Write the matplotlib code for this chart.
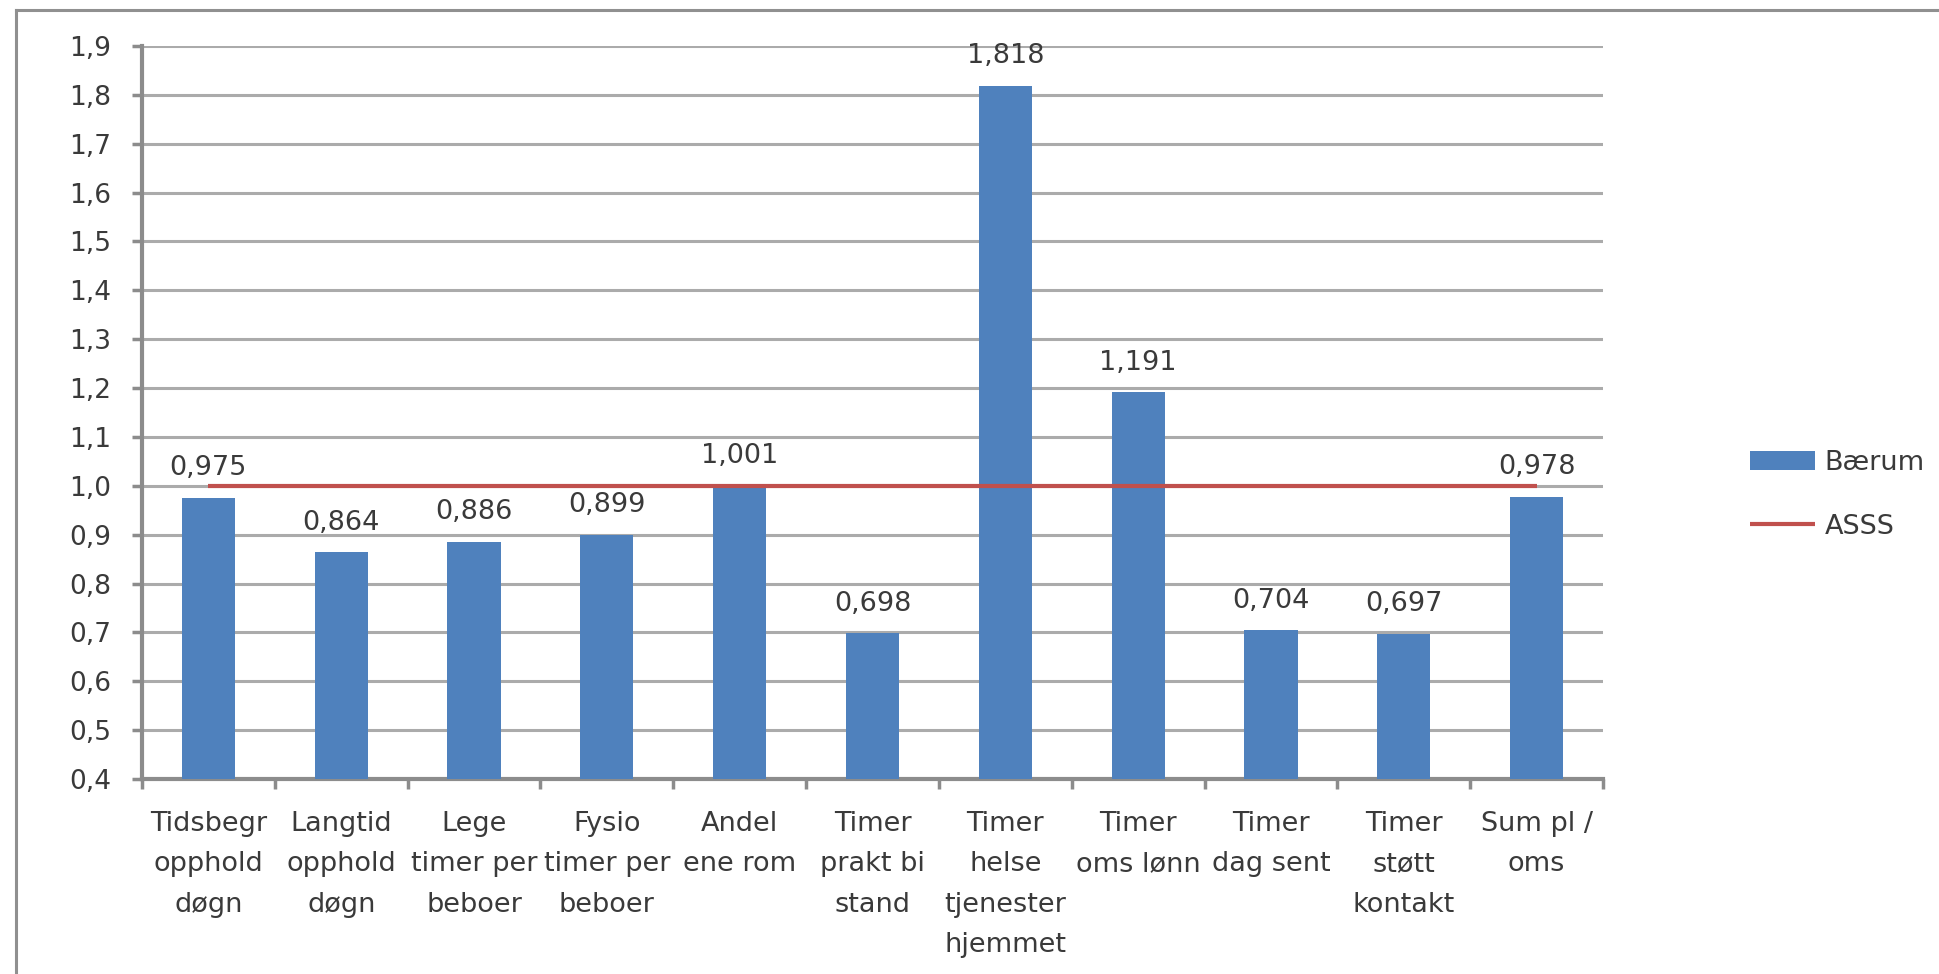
import matplotlib
matplotlib.use("Agg")
import matplotlib.pyplot as plt
from matplotlib.lines import Line2D

plt.rcParams['font.family'] = ['DejaVu Sans']

categories = [
    "Tidsbegr\nopphold\ndøgn",
    "Langtid\nopphold\ndøgn",
    "Lege\ntimer per\nbeboer",
    "Fysio\ntimer per\nbeboer",
    "Andel\nene rom",
    "Timer\nprakt bi\nstand",
    "Timer\nhelse\ntjenester\nhjemmet",
    "Timer\noms lønn",
    "Timer\ndag sent",
    "Timer\nstøtt\nkontakt",
    "Sum pl /\noms",
]
baerum = [0.975, 0.864, 0.886, 0.899, 1.001, 0.698, 1.818, 1.191, 0.704, 0.697, 0.978]
asss = [1.0] * 11
yticks = [0.4, 0.5, 0.6, 0.7, 0.8, 0.9, 1.0, 1.1, 1.2, 1.3, 1.4, 1.5, 1.6, 1.7, 1.8, 1.9]

BLUE = "#4F81BD"
RED = "#C0504D"
TXT = "#3A3A3A"
GRID = "#ABABAB"
SPINE = "#8C8C8C"

W, H = 1940, 974
fig = plt.figure(figsize=(W / 100, H / 100), dpi=100)
fig.patch.set_facecolor("white")

# outer chart border (only top and left edges visible in the crop)
fig.lines.append(Line2D([16 / W, 1.0], [1 - 10 / H, 1 - 10 / H], transform=fig.transFigure,
                        color="#909090", lw=2.2))
fig.lines.append(Line2D([16 / W, 16 / W], [0.0, 1 - 10 / H], transform=fig.transFigure,
                        color="#909090", lw=2.2))

ax = fig.add_axes([142 / W, 1 - 779 / H, (1603 - 142) / W, (779 - 46) / H])
x = list(range(len(categories)))
bars = ax.bar(x, [v - 0.4 for v in baerum], bottom=0.4, width=0.40, color=BLUE,
              label="Bærum", zorder=3)
line, = ax.plot(x, asss, color=RED, lw=3.0, label="ASSS", zorder=4, solid_capstyle="butt")

for xi, v in zip(x, baerum):
    ax.annotate(f"{v:.3f}".replace(".", ","), (xi, v), xytext=(0, 12),
                textcoords="offset points", ha="center", va="bottom",
                fontsize=19.5, color=TXT)

ax.set_xlim(-0.5, len(categories) - 0.5)
ax.set_ylim(0.4, 1.9)
ax.set_yticks(yticks)
ax.set_yticklabels([f"{t:.1f}".replace(".", ",") for t in yticks])
ax.set_xticks(x)
ax.set_xticklabels(categories, linespacing=1.72)
ax.set_xticks([i - 0.5 for i in range(len(categories) + 1)], minor=True)
ax.tick_params(axis="x", which="major", length=0, pad=23, labelsize=19.5, colors=TXT)
ax.tick_params(axis="x", which="minor", length=7, width=2.5, color=SPINE)
ax.tick_params(axis="y", length=7, width=2.5, color=SPINE, labelsize=19,
               labelcolor=TXT, pad=15)
ax.yaxis.grid(True, color=GRID, lw=2.2, zorder=0)
ax.set_axisbelow(True)
for s in ["top", "right"]:
    ax.spines[s].set_visible(False)
for s in ["left", "bottom"]:
    ax.spines[s].set_color(SPINE)
    ax.spines[s].set_linewidth(3.0)

leg = ax.legend(handles=[bars, line], labels=["Bærum", "ASSS"],
                loc="center left", bbox_to_anchor=(1750 / W, 1 - 495 / H),
                bbox_transform=fig.transFigure, frameon=False, fontsize=19.5,
                handlelength=2.4, handleheight=0.7, handletextpad=0.35,
                labelspacing=1.4, borderpad=0, borderaxespad=0,
                labelcolor=TXT)

fig.savefig("out.png", dpi=100, facecolor="white")
